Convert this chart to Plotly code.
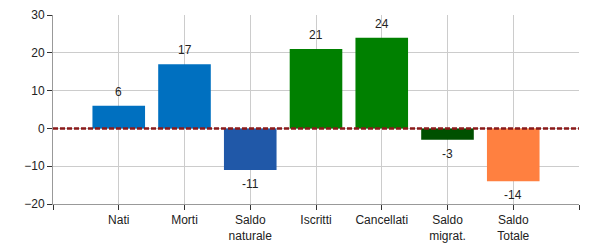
import plotly.graph_objects as go

categories = ["Nati", "Morti", "Saldo<br>naturale", "Iscritti", "Cancellati", "Saldo<br>migrat.", "Saldo<br>Totale"]
values = [6, 17, -11, 21, 24, -3, -14]
colors = ["#0070C0", "#0070C0", "#2058A8", "#008000", "#008000", "#005000", "#FF8040"]
y_ticks = [-20, -10, 0, 10, 20, 30]

positions = list(range(1, len(categories) + 1))

fig = go.Figure()
fig.add_trace(go.Bar(x=positions, y=values, marker=dict(color=colors, line=dict(width=0)),
                     width=0.8, hoverinfo="skip"))

annotations = []
for p, v in zip(positions, values):
    annotations.append(dict(x=p, y=v, text=str(v), showarrow=False,
                            yanchor="bottom" if v >= 0 else "top",
                            yshift=5 if v >= 0 else -5,
                            font=dict(family="Liberation Sans, Arial", size=12, color="#222")))

fig.add_shape(type="line", xref="paper", x0=0, x1=1, yref="y", y0=0, y1=0,
              line=dict(color="#8B1A1A", width=2.5, dash="5px,2px"), layer="above")

fig.update_layout(
    width=600, height=250,
    margin=dict(l=53, r=21, t=15, b=46, autoexpand=False),
    plot_bgcolor="white", paper_bgcolor="white",
    showlegend=False,
    annotations=annotations,
    font=dict(family="Liberation Sans, Arial", size=12, color="#222"),
    xaxis=dict(range=[0, 8], tickmode="array", tickvals=list(range(0, 9)),
               ticktext=[""] + categories + [""],
               showgrid=True, gridcolor="#cccccc", gridwidth=1,
               showline=True, linecolor="#999999", linewidth=1,
               ticks="outside", ticklen=5, tickcolor="#333",
               zeroline=False, fixedrange=True, automargin=False,
               tickfont=dict(size=12, color="#222")),
    yaxis=dict(range=[-20, 30], tickmode="array", tickvals=y_ticks,
               showgrid=True, gridcolor="#cccccc", gridwidth=1,
               showline=True, linecolor="#999999", linewidth=1,
               ticks="outside", ticklen=5, tickcolor="#333",
               zeroline=False, fixedrange=True, automargin=False,
               tickfont=dict(size=12, color="#222")),
)

fig.write_html("out.html")
